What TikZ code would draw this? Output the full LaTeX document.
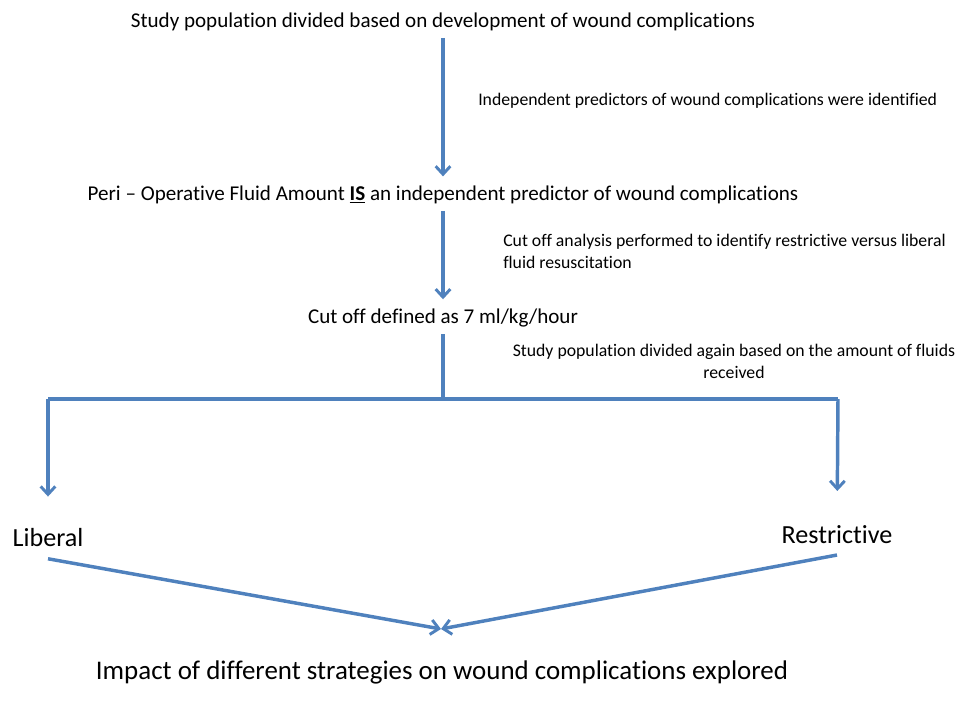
\documentclass[tikz,border=0pt]{standalone}
\usepackage{fontspec}
\setmainfont{Carlito}[Ligatures=NoCommon]
\usetikzlibrary{arrows.meta}
\definecolor{flowblue}{RGB}{79,129,189}

\begin{document}
\begin{tikzpicture}[x=0.75pt,y=-0.75pt]
			\tikzset{step text/.style={font=\fontsize{15.8}{18}\selectfont,inner sep=2pt}}
			\tikzset{side text/.style={font=\fontsize{13.3}{16.5}\selectfont,inner sep=0pt}}
			\tikzset{group text/.style={font=\fontsize{19.6}{22}\selectfont,inner sep=2pt}}
			\tikzset{flow/.style={draw=flowblue,line width=2.6pt,line join=round}}
			\tikzset{arr/.style={flow,-{Straight Barb[length=6pt,width=11pt,line width=2.2pt]}}}
			\useasboundingbox (0,0) rectangle (972,713);
			\node[step text] (study) at (443,22) {Study population divided based on development of wound complications};
			\node[step text] (peri) at (443,195) {Peri -- Operative Fluid Amount \underline{\textbf{IS}} an independent predictor of wound complications};
			\node[step text] (cutoff) at (443,318) {Cut off defined as 7 ml/kg/hour};
			\node[group text] (liberal) at (48,538) {Liberal};
			\node[group text] (restrictive) at (837,535) {Restrictive};
			\node[font=\fontsize{20.2}{24}\selectfont] (impact) at (442,672) {Impact of different strategies on wound complications explored};
			\node[side text,anchor=west] (why1) at (478,101) {Independent predictors of wound complications were identified};
			\node[side text,anchor=west,align=left] (why2) at (503,251) {Cut off analysis performed to identify restrictive versus liberal\\fluid resuscitation};
			\node[side text,align=center] (why3) at (734,361) {Study population divided again based on the amount of fluids\\received};
			\coordinate (split) at (443,399);
			\coordinate (lsplit) at (48,399);
			\coordinate (rsplit) at (838,399);
			\coordinate (meet) at (441,629);
			\draw[arr,shorten <=3pt,shorten >=5pt] (study) -- (peri);
			\draw[arr,shorten <=3pt,shorten >=5pt] (peri) -- (cutoff);
			\draw[flow,shorten <=3pt] (cutoff) -- (split);
			\draw[flow] (lsplit) -- (rsplit);
			\draw[arr,shorten >=22pt] (lsplit) -- (liberal);
			\draw[arr,shorten >=24pt] (rsplit) -- (restrictive);
			\draw[arr] ([yshift=-6.5pt]liberal.south) -- (meet);
			\draw[arr] ([yshift=-6pt]restrictive.south) -- (meet);
\end{tikzpicture}
\end{document}
